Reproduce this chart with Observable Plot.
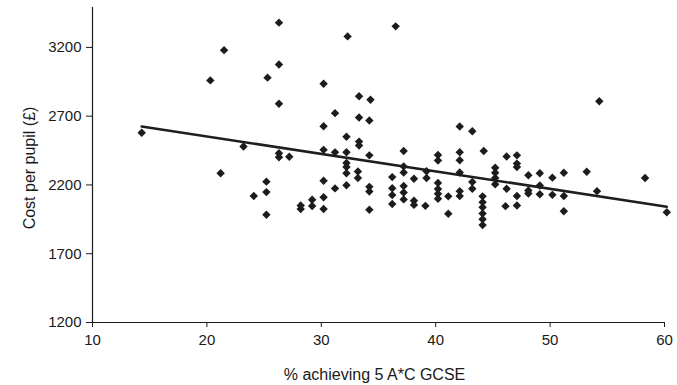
<!DOCTYPE html>
<html>
<head>
<meta charset="utf-8">
<script src="https://cdn.jsdelivr.net/npm/d3@7"></script>
<script src="https://cdn.jsdelivr.net/npm/@observablehq/plot@0.6"></script>
<style>
  html, body { margin: 0; padding: 0; background: #ffffff; }
  #chart { width: 677px; height: 385px; overflow: hidden; }
</style>
</head>
<body>
<div id="chart"></div>
<script>
// % achieving 5 A*-C GCSE
const pctGCSE = [
  14.3, 20.3, 21.2, 21.5, 23.2, 24.1, 25.2, 25.2, 25.2, 25.3,
  26.3, 26.3, 26.3, 26.3, 26.3, 27.2, 28.2, 28.2, 29.2, 29.2,
  30.2, 30.2, 30.2, 30.2, 30.2, 30.2, 31.2, 31.2, 31.2, 32.3,
  32.2, 32.2, 32.2, 32.2, 32.2, 32.2, 33.3, 33.3, 33.3, 33.3,
  33.2, 33.2, 34.3, 34.2, 34.2, 34.2, 34.2, 34.2, 36.5, 36.2,
  36.2, 36.2, 36.2, 37.2, 37.2, 37.2, 37.2, 37.2, 37.2, 38.1,
  38.1, 38.1, 39.2, 39.2, 39.1, 40.2, 40.2, 40.2, 40.2, 40.2,
  40.2, 41.1, 41.1, 42.1, 42.1, 42.1, 42.1, 42.1, 42.1, 43.2,
  43.2, 43.2, 44.2, 44.1, 44.1, 44.1, 44.1, 44.1, 44.1, 45.2,
  45.2, 45.2, 45.2, 46.2, 46.2, 46.1, 47.1, 47.1, 47.1, 47.1,
  47.1, 48.1, 48.1, 48.1, 49.1, 49.1, 49.1, 50.2, 50.2, 51.2,
  51.2, 51.2, 53.2, 54.3, 54.1, 58.3, 60.2
];
// Cost per pupil (£)
const costPerPupil = [
  2580, 2960, 2285, 3180, 2480, 2120, 2224, 2148, 1983, 2980,
  3380, 3075, 2790, 2431, 2402, 2405, 2051, 2025, 2093, 2047,
  2935, 2627, 2455, 2230, 2110, 2025, 2722, 2437, 2175, 3280,
  2550, 2438, 2360, 2330, 2285, 2198, 2845, 2690, 2515, 2487,
  2298, 2250, 2820, 2668, 2415, 2186, 2152, 2020, 3353, 2257,
  2176, 2126, 2062, 2447, 2335, 2290, 2192, 2145, 2095, 2245,
  2085, 2055, 2300, 2250, 2048, 2418, 2378, 2215, 2170, 2136,
  2100, 2117, 1990, 2625, 2438, 2380, 2290, 2155, 2120, 2590,
  2222, 2172, 2447, 2117, 2075, 2037, 1993, 1950, 1908, 2325,
  2288, 2250, 2205, 2407, 2172, 2046, 2415, 2355, 2330, 2120,
  2051, 2270, 2160, 2138, 2285, 2196, 2133, 2253, 2128, 2289,
  2120, 2009, 2296, 2808, 2155, 2250, 2002
];
// Fitted trend line end points (as printed)
const trendX = [14.3, 60.2];
const trendY = [2625, 2042];

const xTicks = [10, 20, 30, 40, 50, 60];
const yTicks = [1200, 1700, 2200, 2700, 3200];
const xTitle = "% achieving 5 A*C GCSE";
const yTitle = "Cost per pupil (£)";

const points = pctGCSE.map((x, i) => ({x, y: costPerPupil[i]}));
const trend = trendX.map((x, i) => ({x, y: trendY[i]}));

const font = "'Liberation Sans', Arial, sans-serif";

const chart = Plot.plot({
  width: 677,
  height: 385,
  marginLeft: 92,
  marginRight: 13,
  marginTop: 7,
  marginBottom: 63,
  style: {fontFamily: font, fontSize: "15px", background: "#ffffff", color: "#1a1a1a"},
  x: {domain: [10, 60]},
  y: {domain: [1200, 3490]},
  marks: [
    Plot.axisX({ticks: xTicks, tickSize: 5, tickPadding: 7, fontSize: 15, label: null, tickFormat: d => String(d)}),
    Plot.axisY({ticks: yTicks, tickSize: 6, tickPadding: 5, fontSize: 15, label: null, tickFormat: d => String(d)}),
    Plot.ruleX([10], {stroke: "#1a1a1a", strokeWidth: 1.2}),
    Plot.ruleY([1200], {stroke: "#1a1a1a", strokeWidth: 1.2}),
    Plot.line(trend, {x: "x", y: "y", stroke: "#1e1e1e", strokeWidth: 2.6}),
    Plot.dot(points, {x: "x", y: "y", symbol: "diamond2", r: 3.8, fill: "#1c1c1c", stroke: "none"}),
    Plot.text([xTitle], {frameAnchor: "bottom", dx: -4, dy: 52, fontSize: 16, lineAnchor: "middle"}),
    Plot.text([yTitle], {frameAnchor: "left", dx: -63, dy: 3, rotate: -90, fontSize: 16, lineAnchor: "middle", textAnchor: "middle"})
  ]
});
document.getElementById("chart").appendChild(chart);
</script>
</body>
</html>
